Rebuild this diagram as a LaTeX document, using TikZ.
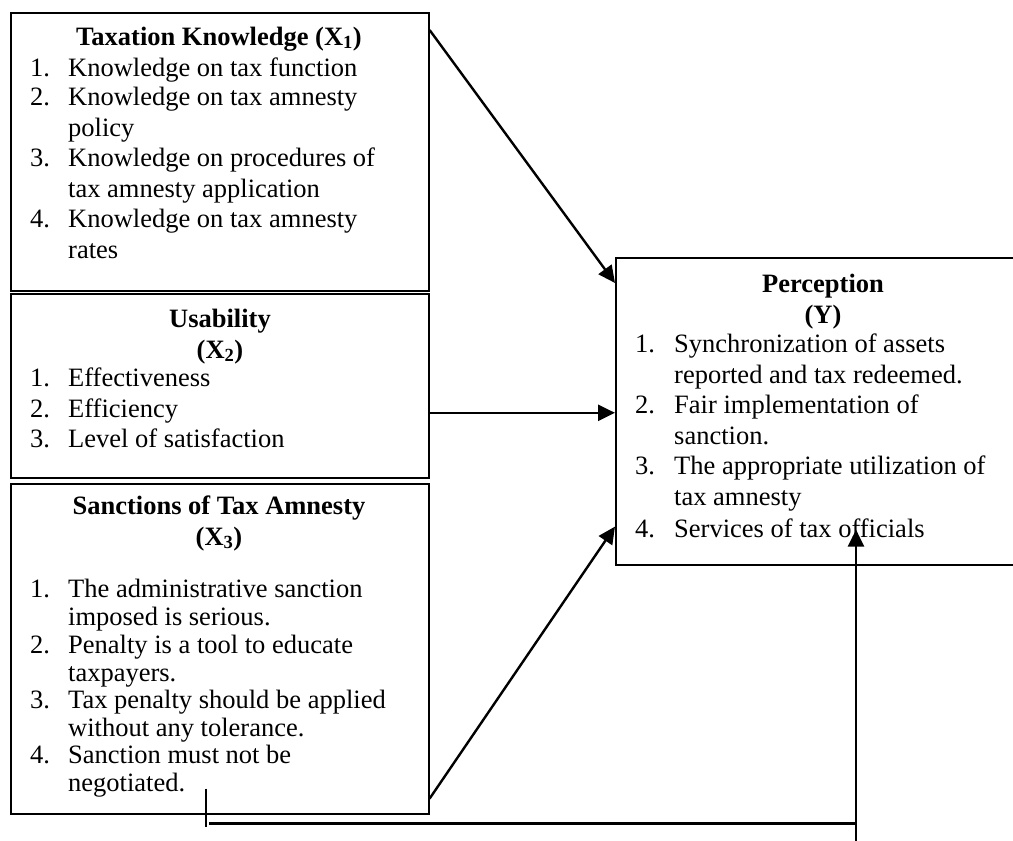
\documentclass[tikz,border=0pt]{standalone}
\usepackage{fontspec}
\setmainfont{Liberation Serif}
\usetikzlibrary{arrows.meta,calc}
\begin{document}
\begin{tikzpicture}[x=1pt,y=-1pt,
  box/.style={draw,line width=1.6pt,anchor=north west,inner sep=0pt},
  ttl/.style={anchor=base,align=center,inner sep=0pt,font=\bfseries\fontsize{26.5}{30.3}\selectfont},
  num/.style={anchor=base west,inner sep=0pt,align=left,font=\fontsize{26.5}{30.3}\selectfont},
  itm/.style={anchor=base west,inner sep=0pt,align=left,font=\fontsize{26.5}{30.3}\selectfont},
  numb/.style={anchor=base west,inner sep=0pt,align=left,font=\fontsize{26.5}{27.7}\selectfont},
  itmb/.style={anchor=base west,inner sep=0pt,align=left,font=\fontsize{26.5}{27.7}\selectfont},
  conn/.style={line width=2.4pt,-{Triangle[length=17pt,width=16pt]}},
  plainline/.style={line width=2.2pt}]
\useasboundingbox (0,0) rectangle (1013,841);
\begin{scope}
\clip (0,0) rectangle (1013,841);
% boxes
\node[box,minimum width=418pt,minimum height=278pt] (x1) at (10,12) {};
\node[box,minimum width=418pt,minimum height=184pt] (x2) at (10,293) {};
\node[box,minimum width=418pt,minimum height=330pt] (x3) at (10,483) {};
\node[box,minimum width=416pt,minimum height=307pt] (y) at (615,257) {};
% X1 (multi-line nodes are placed at the baseline of their last line)
\node[ttl] (x1t) at (219,45) {Taxation Knowledge (X\textsubscript{1})};
\node[num] (x1n1) at (30,76) {1.};
\node[itm] (x1i1) at (68,76) {Knowledge on tax function};
\node[num] (x1n2) at (30,136) {2.\\\strut};
\node[itm] (x1i2) at (68,136) {Knowledge on tax amnesty\\policy};
\node[num] (x1n3) at (30,197) {3.\\\strut};
\node[itm] (x1i3) at (68,197) {Knowledge on procedures of\\tax amnesty application};
\node[num] (x1n4) at (30,258) {4.\\\strut};
\node[itm] (x1i4) at (68,258) {Knowledge on tax amnesty\\rates};
% X2
\node[ttl] (x2t) at (220,358) {Usability\\(X\textsubscript{2})};
\node[num] (x2n1) at (30,386) {1.};
\node[itm] (x2i1) at (68,386) {Effectiveness};
\node[num] (x2n2) at (30,417) {2.};
\node[itm] (x2i2) at (68,417) {Efficiency};
\node[num] (x2n3) at (30,447) {3.};
\node[itm] (x2i3) at (68,447) {Level of satisfaction};
% X3
\node[ttl] (x3t) at (219,545) {Sanctions of Tax Amnesty\\(X\textsubscript{3})};
\node[numb] (x3n1) at (30,625) {1.\\\strut};
\node[itmb] (x3i1) at (68,625) {The administrative sanction\\imposed is serious.};
\node[numb] (x3n2) at (30,681) {2.\\\strut};
\node[itmb] (x3i2) at (68,681) {Penalty is a tool to educate\\taxpayers.};
\node[numb] (x3n3) at (30,736) {3.\\\strut};
\node[itmb] (x3i3) at (68,736) {Tax penalty should be applied\\without any tolerance.};
\node[numb] (x3n4) at (30,791) {4.\\\strut};
\node[itmb] (x3i4) at (68,791) {Sanction must not be\\negotiated.};
% Y
\node[ttl] (yt) at (823,323) {Perception\\(Y)};
\node[num] (yn1) at (635,383) {1.\\\strut};
\node[itm] (yi1) at (674,383) {Synchronization of assets\\reported and tax redeemed.};
\node[num] (yn2) at (635,444) {2.\\\strut};
\node[itm] (yi2) at (674,444) {Fair implementation of\\sanction.};
\node[num] (yn3) at (635,505) {3.\\\strut};
\node[itm] (yi3) at (674,505) {The appropriate utilization of\\tax amnesty};
\node[num] (yn4) at (635,537) {4.};
\node[itm] (yi4) at (674,537) {Services of tax officials};
% connectors
\draw[conn] ([yshift=-18pt]x1.north east) -- ([yshift=-26pt]y.north west);
\draw[conn] ([yshift=-27pt]x2.east) -- ([yshift=-1.5pt]y.west);
\draw[conn] ([yshift=16pt]x3.south east) -- ([yshift=39pt]y.south west);
% feedback
\coordinate (fbA) at ([xshift=196pt,yshift=26pt]x3.south west);
\coordinate (fbB) at ([xshift=199pt,yshift=-9pt]x3.south west);
\coordinate (fbT) at ([xshift=241pt,yshift=36pt]y.south west);
\draw[plainline] (fbA) -- ++(0,38);
\draw[conn] (fbB) -| (fbT);
\draw[plainline] (fbB -| fbT) -- ++(0,18);
\end{scope}
\end{tikzpicture}
\end{document}
